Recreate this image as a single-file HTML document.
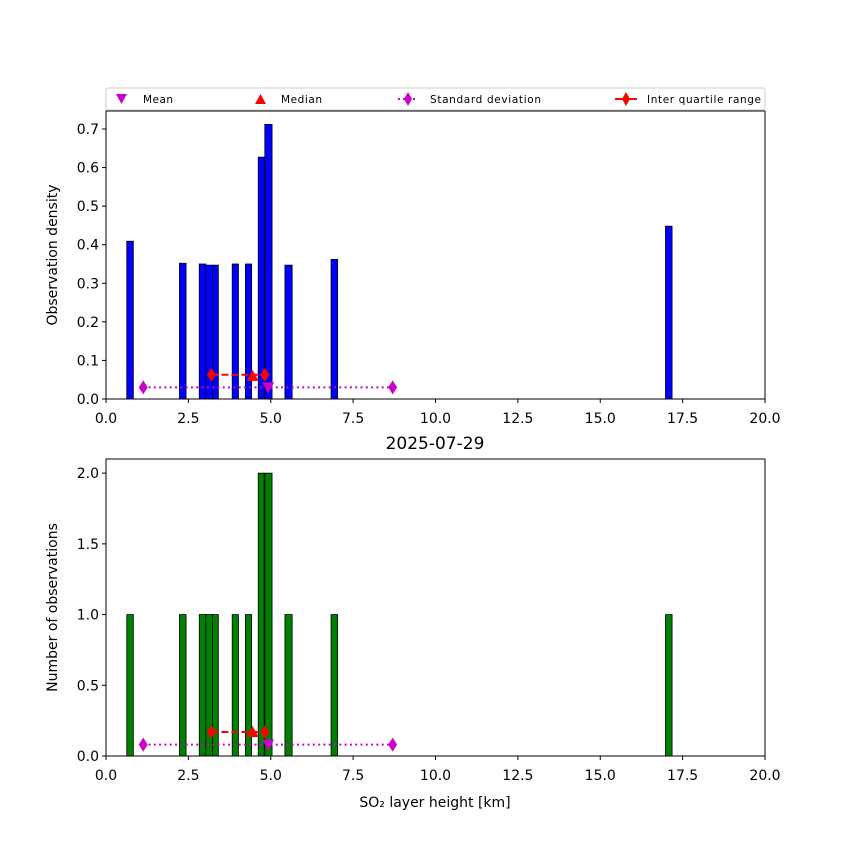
<!DOCTYPE html>
<html><head><meta charset="utf-8"><style>body{margin:0;background:#fff}svg text{font-family:"DejaVu Sans","Liberation Sans",sans-serif}</style></head>
<body>
<svg id="c" width="850" height="850" xmlns="http://www.w3.org/2000/svg"></svg>
<script>
const binLeft=[0.63,2.23,2.83,3.03,3.23,3.83,4.23,4.62,4.82,5.43,6.83,16.98];
const binWidth=[0.2,0.2,0.2,0.2,0.18,0.19,0.19,0.18,0.22,0.22,0.2,0.2];
const density=[0.409,0.352,0.35,0.347,0.347,0.35,0.35,0.627,0.712,0.347,0.362,0.448];
const counts=[1,1,1,1,1,1,1,2,2,1,1,1];
const meanVal=4.92, medianVal=4.45, q1=3.2, q3=4.82, stdLo=1.13, stdHi=8.7;
const xTicks=[0,2.5,5,7.5,10,12.5,15,17.5,20];
const yTicksTop=[0,0.1,0.2,0.3,0.4,0.5,0.6,0.7];
const yTicksBot=[0,0.5,1,1.5,2];
const svg=document.getElementById('c');
const NS='http://www.w3.org/2000/svg';
function mk(t,a,p){const e=document.createElementNS(NS,t);for(const k in a)e.setAttribute(k,a[k]);(p||svg).appendChild(e);return e;}
function panel(top,bot,ymax,yTicks,vals,color,statY,name,ylabel){
  const L=106,R=765;
  const g=mk('g',{});
  
  
  const x=v=>L+(v/20)*(R-L), y=v=>bot-(v/ymax)*(bot-top);
  vals.forEach((v,i)=>{const r=mk('rect',{x:x(binLeft[i]),y:y(v),width:x(binLeft[i]+binWidth[i])-x(binLeft[i]),height:bot-y(v),fill:color,stroke:'#000','stroke-width':0.8},g);
    
    });
  const sy=y(statY[0]);
  mk('line',{x1:x(stdLo),y1:sy,x2:x(stdHi),y2:sy,stroke:'#c0c','stroke-width':2,'stroke-dasharray':'2,3.3'},g);
  [stdLo,stdHi].forEach(v=>{const d=mk('path',{d:`M${x(v)},${sy-7} L${x(v)+4.5},${sy} L${x(v)},${sy+7} L${x(v)-4.5},${sy}Z`,fill:'#c0c'},g);
    
    });
  const iy=y(statY[1]);
  mk('line',{x1:x(q1),y1:iy,x2:x(q3),y2:iy,stroke:'red','stroke-width':2,'stroke-dasharray':'7,3'},g);
  [q1,q3].forEach(v=>{const d=mk('path',{d:`M${x(v)},${iy-7} L${x(v)+4.5},${iy} L${x(v)},${iy+7} L${x(v)-4.5},${iy}Z`,fill:'red'},g);
    
    });
  const my=y(statY[2]);const mx=x(medianVal);
  const md=mk('path',{d:`M${mx-6},${my+5} L${mx+6},${my+5} L${mx},${my-6}Z`,fill:'red'},g);
  
  
  const ey=y(statY[0]);const ex=x(meanVal);
  const mn=mk('path',{d:`M${ex-6},${ey-5} L${ex+6},${ey-5} L${ex},${ey+6}Z`,fill:'#c0c'},g);
  
  
  mk('rect',{x:L,y:top,width:R-L,height:bot-top,fill:'none',stroke:'#000','stroke-width':1},g);
  xTicks.forEach(v=>{mk('line',{x1:x(v),y1:bot,x2:x(v),y2:bot+4,stroke:'#000'},g);
    const t=mk('text',{x:x(v),y:bot+24,'text-anchor':'middle','font-size':14},g);t.textContent=v.toFixed(1);});
  yTicks.forEach(v=>{mk('line',{x1:L-4,y1:y(v),x2:L,y2:y(v),stroke:'#000'},g);
    const t=mk('text',{x:L-7,y:y(v)+5,'text-anchor':'end','font-size':14},g);t.textContent=v.toFixed(1);});
  const yl=mk('text',{x:0,y:0,transform:`translate(57,${(top+bot)/2}) rotate(-90)`,'text-anchor':'middle','font-size':14},g);yl.textContent=ylabel;
  
  
}
panel(111,399,0.7*(288/270),yTicksTop,density,'#0000ff',[0.03,0.063,0.06],'density-panel','Observation density');
panel(459,756,2.1,yTicksBot,counts,'#008000',[0.08,0.17,0.17],'count-panel','Number of observations');
const title=mk('text',{x:435,y:449,'text-anchor':'middle','font-size':17});title.textContent='2025-07-29';


const xl=mk('text',{x:435,y:807,'text-anchor':'middle','font-size':14});xl.textContent='SO₂ layer height [km]';


const lg=mk('g',{});


mk('rect',{x:106,y:88,width:659,height:22,fill:'#fff',stroke:'#ccc',rx:2},lg);
mk('path',{d:'M116,94 L127,94 L121.5,104Z',fill:'#c0c'},lg);
let t=mk('text',{x:143,y:103,'font-size':10.5,textLength:30},lg);t.textContent='Mean';
mk('path',{d:'M255,104 L266,104 L260.5,94Z',fill:'red'},lg);
t=mk('text',{x:281,y:103,'font-size':10.5,textLength:41},lg);t.textContent='Median';
mk('line',{x1:398,y1:99,x2:418,y2:99,stroke:'#c0c','stroke-width':2,'stroke-dasharray':'2,3'},lg);
mk('path',{d:'M408,92 L412,99 L408,106 L404,99Z',fill:'#c0c'},lg);
t=mk('text',{x:430,y:103,'font-size':10.5,textLength:111},lg);t.textContent='Standard deviation';
mk('line',{x1:615,y1:99,x2:637,y2:99,stroke:'red','stroke-width':2},lg);
mk('path',{d:'M626,92 L630,99 L626,106 L622,99Z',fill:'red'},lg);
t=mk('text',{x:647,y:103,'font-size':10.5,textLength:114},lg);t.textContent='Inter quartile range';
</script>
</body></html>
